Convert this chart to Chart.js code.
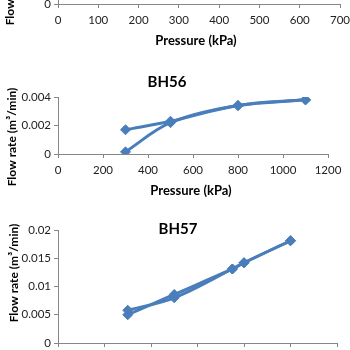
<!DOCTYPE html>
<html>
<head>
<meta charset="utf-8">
<script src="https://cdn.jsdelivr.net/npm/chart.js@4.4.1/dist/chart.umd.min.js"></script>
<style>
  html, body { margin: 0; padding: 0; background: #fff; overflow: hidden; }
  body { width: 350px; height: 350px; position: relative; }
  .panel { position: absolute; left: 0; width: 350px; }
  canvas { display: block; }
</style>
</head>
<body>
<div class="panel" style="top:-100px"><canvas id="chartTop" width="350" height="150"></canvas></div>
<div class="panel" style="top:60px"><canvas id="chartBH56" width="350" height="140"></canvas></div>
<div class="panel" style="top:210px"><canvas id="chartBH57" width="350" height="140"></canvas></div>
<script>
// BH56: pressure steps, flow going up and coming back down
const bh56Pressure = [300, 500, 800, 1100];
const bh56Loading = [0.00015, 0.0022, 0.0034, 0.0038];
const bh56Unloading = [0.0017, 0.0023, 0.0034, 0.0038];

// BH57
const bh57Pressure = [300, 500, 750, 800, 1000];
const bh57Loading = [0.005, 0.0086, 0.0131, 0.0142, 0.0181];
const bh57Unloading = [0.0058, 0.008, 0.0131, 0.0142, 0.0181];

// axis ranges / tick steps
const topAxisX = [0, 700, 100];
const bh56AxisX = [0, 1200, 200];
const bh56AxisY = [0, 0.004, 0.002];
const bh57AxisX = [0, 1200, 200];
const bh57AxisY = [0, 0.02, 0.005];

const yTitle = 'Flow rate (m³/min)';
const xTitle = 'Pressure (kPa)';

const BLUE = '#4a7ebb';
const AXIS = '#868686';
const FONT = 'Lato, "Liberation Sans", sans-serif';

// fixed-position texts (chart titles, axis titles)
const panelText = {
  id: 'panelText',
  afterDraw(chart, args, opts) {
    const ctx = chart.ctx;
    (opts.items || []).forEach(it => {
      ctx.save();
      ctx.font = it.font;
      ctx.fillStyle = '#000';
      ctx.textAlign = 'center';
      ctx.textBaseline = 'middle';
      ctx.translate(it.x, it.y);
      if (it.rotate) ctx.rotate(-Math.PI / 2);
      ctx.fillText(it.text, 0, 0);
      ctx.restore();
    });
  }
};

function series(xs, ys) {
  return xs.map((x, i) => ({ x, y: ys[i] }));
}

function lineSet(xs, ys) {
  return {
    data: series(xs, ys),
    showLine: true,
    borderColor: BLUE,
    backgroundColor: BLUE,
    borderWidth: 3,
    tension: 0.35,
    pointStyle: 'rectRot',
    pointRadius: 5,
    pointBorderWidth: 1,
    pointBorderColor: BLUE,
    pointBackgroundColor: BLUE
  };
}

// plain numbers, no thousands separator
function fmt(v) {
  return String(+v.toFixed(4));
}

function panel(id, cfg) {
  const canvas = document.getElementById(id);
  return new Chart(canvas, {
    type: 'scatter',
    data: { datasets: cfg.datasets },
    plugins: [panelText],
    options: {
      responsive: false,
      animation: false,
      layout: {
        padding: {
          left: 0,
          top: cfg.area.top,
          right: canvas.width - cfg.area.right,
          bottom: canvas.height - cfg.area.bottom - cfg.xHeight
        }
      },
      plugins: {
        legend: { display: false },
        tooltip: { enabled: false },
        panelText: { items: cfg.texts }
      },
      scales: {
        x: {
          type: 'linear',
          min: cfg.x[0], max: cfg.x[1],
          ticks: { stepSize: cfg.x[2], maxRotation: 0, autoSkip: false, padding: 5, callback: fmt,
                   color: '#222', font: { family: FONT, size: 11.5 } },
          grid: { drawOnChartArea: false, tickLength: 4, color: AXIS },
          border: { color: AXIS },
          afterFit(s) { s.height = cfg.xHeight; s.paddingLeft = 0; s.paddingRight = 0; }
        },
        y: {
          type: 'linear',
          min: cfg.y[0], max: cfg.y[1],
          ticks: { stepSize: cfg.y[2], padding: 3, callback: fmt,
                   color: '#222', font: { family: FONT, size: 11.5 } },
          grid: { drawOnChartArea: false, tickLength: 4, color: AXIS },
          border: { color: AXIS },
          afterFit(s) { s.width = cfg.area.left; s.paddingTop = 0; s.paddingBottom = 0; }
        }
      }
    }
  });
}

const bold12 = 'bold 12px ' + FONT;
const bold13 = 'bold 13px ' + FONT;
const bold15 = 'bold 15px ' + FONT;

panel('chartTop', {
  datasets: [],
  area: { left: 58, right: 340, top: 10, bottom: 104 },
  xHeight: 46,
  x: topAxisX,
  y: bh56AxisY,
  texts: [
    { text: xTitle, x: 196, y: 141, font: bold13 },
    { text: yTitle, x: 10, y: 76, font: bold12, rotate: true }
  ]
});

panel('chartBH56', {
  datasets: [lineSet(bh56Pressure, bh56Loading), lineSet(bh56Pressure, bh56Unloading)],
  area: { left: 58, right: 328, top: 37, bottom: 94 },
  xHeight: 46,
  x: bh56AxisX,
  y: bh56AxisY,
  texts: [
    { text: 'BH56', x: 167, y: 22, font: bold15 },
    { text: xTitle, x: 191, y: 131, font: bold13 },
    { text: yTitle, x: 12, y: 77, font: bold12, rotate: true }
  ]
});

panel('chartBH57', {
  datasets: [lineSet(bh57Pressure, bh57Loading), lineSet(bh57Pressure, bh57Unloading)],
  area: { left: 58, right: 337, top: 20, bottom: 133 },
  xHeight: 7,
  x: bh57AxisX,
  y: bh57AxisY,
  texts: [
    { text: 'BH57', x: 178, y: 19, font: bold15 },
    { text: yTitle, x: 14, y: 63, font: bold12, rotate: true }
  ]
});
</script>
</body>
</html>
